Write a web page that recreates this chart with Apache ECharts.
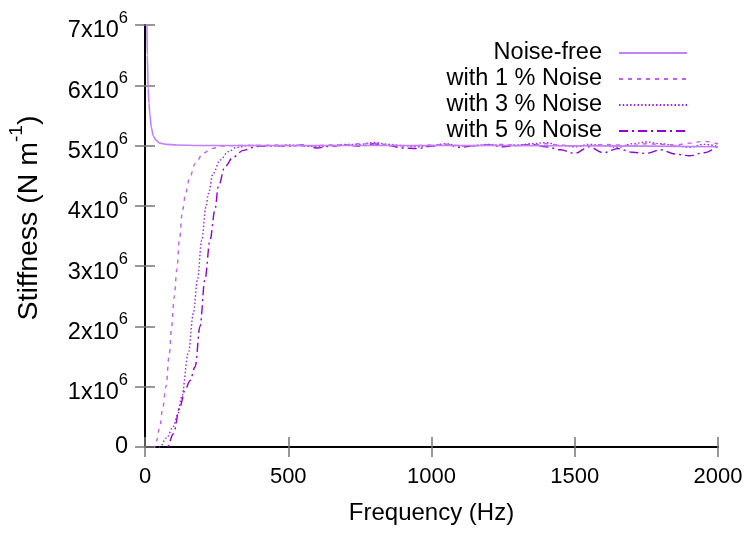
<!DOCTYPE html>
<html><head><meta charset="utf-8">
<script src="https://cdn.jsdelivr.net/npm/echarts@6/dist/echarts.min.js"></script>
<style>html,body{margin:0;padding:0;background:#fff}#c{width:753px;height:533px}</style>
</head><body><div id="c"></div>
<script>
// ---- data ----
const xTicks = [0, 500, 1000, 1500, 2000];
const yTicks = [0, 1e6, 2e6, 3e6, 4e6, 5e6, 6e6, 7e6];
const seriesNames = ['Noise-free', 'with 1 % Noise', 'with 3 % Noise', 'with 5 % Noise'];

const freqNF = [3, 4, 6, 8, 11, 14, 17, 22, 29, 38, 52, 75, 110, 200, 400, 800, 1200, 1600, 2000];
const stiffNF = [9.5e6, 8.5e6, 7.2e6, 6.5e6, 5.95e6, 5.7e6, 5.52e6, 5.3e6, 5.16e6, 5.09e6, 5.04e6, 5.02e6, 5.01e6, 5.0e6, 5.0e6, 5.0e6, 5.0e6, 4.995e6, 4.98e6];

const freqFlat = [400, 450, 500, 550, 600, 650, 700, 750, 800, 850, 900, 950, 1000, 1050, 1100, 1150, 1200, 1250, 1300, 1350, 1400, 1450, 1500, 1550, 1600, 1650, 1700, 1750, 1800, 1850, 1900, 1950, 2000];

const freqN1 = [28, 40, 52, 62, 73, 85, 93, 102, 111, 120, 131, 142, 155, 175, 203, 232, 270, 320];
const stiffN1 = [-0.2e6, 0.1e6, 0.34e6, 0.65e6, 1.0e6, 1.55e6, 2.0e6, 2.49e6, 2.94e6, 3.43e6, 3.93e6, 4.22e6, 4.45e6, 4.7e6, 4.87e6, 4.95e6, 4.99e6, 5.0e6];
const stiffN1Flat = [5.0e6, 5.01e6, 5.0e6, 4.99e6, 5.0e6, 5.01e6, 5.01e6, 5.03e6, 5.04e6, 5.01e6, 4.99e6, 5.0e6, 5.01e6, 5.02e6, 5.0e6, 4.99e6, 5.01e6, 5.02e6, 5.0e6, 5.01e6, 5.03e6, 5.01e6, 4.99e6, 5.0e6, 5.02e6, 5.01e6, 5.0e6, 5.03e6, 5.02e6, 5.01e6, 5.04e6, 5.07e6, 5.03e6];

const freqN3 = [45, 52, 75, 99, 115, 128, 151, 169, 183, 198, 213, 221, 238, 262, 291, 320, 360];
const stiffN3 = [-0.2e6, 0, 0.15e6, 0.34e6, 0.55e6, 0.83e6, 1.55e6, 2.22e6, 2.77e6, 3.43e6, 3.98e6, 4.2e6, 4.54e6, 4.76e6, 4.9e6, 4.97e6, 5.0e6];
const stiffN3Flat = [5.0e6, 4.99e6, 5.01e6, 5.0e6, 4.98e6, 5.0e6, 5.02e6, 5.02e6, 5.05e6, 5.02e6, 5.0e6, 4.98e6, 5.0e6, 5.03e6, 4.99e6, 5.0e6, 5.02e6, 5.0e6, 5.01e6, 5.03e6, 5.05e6, 5.0e6, 4.98e6, 5.02e6, 5.0e6, 4.97e6, 5.03e6, 5.06e6, 5.03e6, 5.0e6, 4.97e6, 5.02e6, 4.99e6];

const freqN5 = [70, 78, 99, 122, 140, 157, 175, 192, 209, 227, 244, 256, 279, 308, 343, 378];
const stiffN5 = [-0.2e6, 0, 0.22e6, 0.67e6, 0.95e6, 1.1e6, 1.33e6, 2.0e6, 2.77e6, 3.43e6, 3.93e6, 4.32e6, 4.65e6, 4.81e6, 4.92e6, 4.97e6];
const stiffN5Flat = [4.99e6, 5.0e6, 4.99e6, 5.01e6, 4.96e6, 4.99e6, 5.01e6, 4.99e6, 5.03e6, 5.0e6, 4.96e6, 4.95e6, 4.99e6, 5.02e6, 4.97e6, 5.0e6, 5.01e6, 4.98e6, 5.0e6, 5.02e6, 4.98e6, 4.93e6, 4.87e6, 4.98e6, 4.88e6, 4.95e6, 4.89e6, 4.87e6, 4.93e6, 4.86e6, 4.83e6, 4.88e6, 4.99e6];

// ---- build ----
const FONT = "'Liberation Sans', Arial, sans-serif";
const FS_TICK = 22, FS_YTICK = 23.5, FS_LEG = 23.5, FS_NAME = 24, FS_YNAME = 28.5, SUP = 16.5;

function pairs(fx, vy) { return fx.map((f, i) => [f, vy[i]]); }
const dataNF = pairs(freqNF, stiffNF);
const dataN1 = pairs(freqN1, stiffN1).concat(pairs(freqFlat, stiffN1Flat).filter(p => p[0] > 320));
const dataN3 = pairs(freqN3, stiffN3).concat(pairs(freqFlat, stiffN3Flat).filter(p => p[0] > 360));
const dataN5 = pairs(freqN5, stiffN5).concat(pairs(freqFlat, stiffN5Flat));

const colors = ['#c080ff', '#c060f0', '#a020f0', '#9400d3'];
const dashes = ['solid', [4, 5], [1.5, 2.2], [9, 4, 2, 4]];
const allData = [dataNF, dataN1, dataN3, dataN5];

const grid = { left: 145, right: 35, top: 25, bottom: 86, containLabel: false, outerBoundsMode: 'none' };
const axisLine = { show: true, lineStyle: { color: '#000', width: 2 } };
const tick = { show: true, inside: true, length: 10, lineStyle: { color: '#777', width: 1.5 } };

const chart = echarts.init(document.getElementById('c'), null, { renderer: 'canvas' });
const rowY = [50, 76, 102, 128];
const option = {
  animation: false,
  backgroundColor: '#fff',
  textStyle: { fontFamily: FONT },
  grid: grid,
  legend: seriesNames.map((n, i) => ({
    data: [n], right: 65, top: rowY[i] - 9, orient: 'vertical', align: 'right',
    padding: 0, itemWidth: 68, itemHeight: 10, selectedMode: false,
    itemStyle: { color: 'rgba(0,0,0,0)', borderWidth: 0, opacity: 0 },
    textStyle: { fontFamily: FONT, fontSize: FS_LEG, color: '#000', padding: [0, 12, 0, 0] }
  })),
  xAxis: [{
    type: 'value', min: 0, max: 2000, interval: 500,
    name: 'Frequency (Hz)', nameLocation: 'middle', nameGap: 54,
    nameTextStyle: { fontFamily: FONT, fontSize: FS_NAME, color: '#000' },
    axisLine: axisLine, axisTick: tick, splitLine: { show: false },
    axisLabel: { margin: 19, fontFamily: FONT, fontSize: FS_TICK, color: '#000', formatter: v => String(v) }
  }, {
    type: 'value', position: 'top', min: 0, max: 2000, interval: 500,
    axisLine: axisLine, axisTick: tick, splitLine: { show: false }, axisLabel: { show: false }
  }],
  yAxis: [{
    type: 'value', min: 0, max: 7e6, interval: 1e6,
    name: '{a|Stiffness (N m}{b|-1}{a|)}', nameLocation: 'middle', nameGap: 101, nameRotate: 90,
    nameTextStyle: {
      color: '#000', padding: [0, 0, 0, 36],
      rich: { a: { fontFamily: FONT, fontSize: FS_YNAME, color: '#000', lineHeight: 40, verticalAlign: 'bottom' },
              b: { fontFamily: FONT, fontSize: 19, color: '#000', lineHeight: 40, verticalAlign: 'top', padding: [3, 0, 0, 0] } }
    },
    axisLine: axisLine, axisTick: tick, splitLine: { show: false },
    axisLabel: {
      margin: 17, color: '#000', fontFamily: FONT, fontSize: FS_YTICK,
      formatter: v => v === 0 ? '0' : '{a|' + (v / 1e6) + 'x10}{b|6}',
      rich: { a: { fontFamily: FONT, fontSize: FS_YTICK, color: '#000', lineHeight: 36, verticalAlign: 'bottom' },
              b: { fontFamily: FONT, fontSize: SUP, color: '#000', lineHeight: 36, verticalAlign: 'top', padding: [3, 0, 0, 0] } }
    }
  }, {
    type: 'value', position: 'right', min: 0, max: 7e6, interval: 1e6,
    axisLine: axisLine, axisTick: tick, splitLine: { show: false }, axisLabel: { show: false }
  }],
  series: seriesNames.map((n, i) => ({
    name: n, type: 'line', data: allData[i], symbol: 'none', showSymbol: false,
    smooth: 0.35, smoothMonotone: 'x', clip: true, z: 10 - i,
    color: colors[i],
    lineStyle: { color: colors[i], width: i === 0 ? 1.6 : 1.4, type: dashes[i] },
    itemStyle: { color: colors[i] }
  }))
};
chart.setOption(option);
</script></body></html>
